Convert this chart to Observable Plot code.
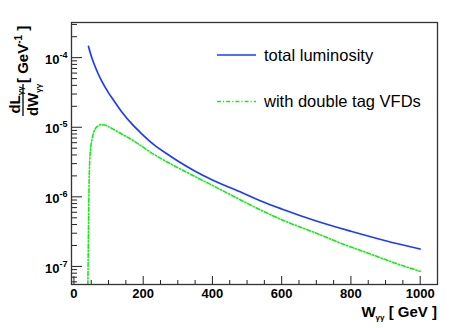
<!DOCTYPE html>
<html>
<head>
<meta charset="utf-8">
<script src="https://cdn.jsdelivr.net/npm/d3@7"></script>
<script src="https://cdn.jsdelivr.net/npm/@observablehq/plot@0.6"></script>
<style>
  html, body { margin: 0; padding: 0; background: #fff; }
  #chart { width: 457px; height: 328px; }
</style>
</head>
<body>
<div id="chart"></div>
<script>
// ---- data ----
const totalW = [42, 50, 60, 70, 80, 100, 115, 140, 170, 192, 230, 278, 300, 350, 400, 480, 538, 600, 700, 800, 900, 1000];
const totalL = [1.45e-4, 1.06e-4, 7.7e-5, 5.87e-5, 4.64e-5, 3.12e-5, 2.43e-5, 1.62e-5, 1.08e-5, 8.4e-6, 5.68e-6, 3.86e-6, 3.27e-6, 2.34e-6, 1.75e-6, 1.18e-6, 8.8e-7, 6.7e-7, 4.5e-7, 3.2e-7, 2.34e-7, 1.78e-7];

const vfdW = [40, 41, 42, 43, 44, 45.5, 48, 52, 57, 63, 70, 78, 88, 100, 115, 144, 170, 192, 230, 278, 336, 400, 480, 538, 600, 700, 783, 850, 920, 1000];
const vfdL = [4e-8, 1.2e-7, 3.5e-7, 8e-7, 1.7e-6, 3.2e-6, 4.8e-6, 6.6e-6, 8.4e-6, 9.7e-6, 1.05e-5, 1.09e-5, 1.08e-5, 1.02e-5, 9.3e-6, 7.7e-6, 6.5e-6, 5.5e-6, 4.1e-6, 3.0e-6, 2.12e-6, 1.46e-6, 9.1e-7, 6.5e-7, 4.7e-7, 3.0e-7, 2.04e-7, 1.55e-7, 1.15e-7, 8.5e-8];

const xMajorTicks = [0, 200, 400, 600, 800, 1000];
const xMinorTicks = [50, 100, 150, 250, 300, 350, 450, 500, 550, 650, 700, 750, 850, 900, 950];
const yMajorTicks = [1e-7, 1e-6, 1e-5, 1e-4];
const yMinorTicks = [6e-8, 7e-8, 8e-8, 9e-8,
  2e-7, 3e-7, 4e-7, 5e-7, 6e-7, 7e-7, 8e-7, 9e-7,
  2e-6, 3e-6, 4e-6, 5e-6, 6e-6, 7e-6, 8e-6, 9e-6,
  2e-5, 3e-5, 4e-5, 5e-5, 6e-5, 7e-5, 8e-5, 9e-5,
  2e-4, 3e-4];

const seriesNames = ["total luminosity", "with double tag VFDs"];
const seriesColors = ["#1a3cff", "#11ee11"];

const total = totalW.map((w, i) => ({w, l: totalL[i]}));
const vfd = vfdW.map((w, i) => ({w, l: vfdL[i]}));

const FONT = "'Liberation Sans', Arial, Helvetica, sans-serif";

const chart = Plot.plot({
  width: 457,
  height: 328,
  marginLeft: 71,
  marginRight: 20,
  marginTop: 22,
  marginBottom: 44,
  style: {fontFamily: FONT, background: "white", overflow: "visible"},
  x: {domain: [-7, 1050]},
  y: {type: "log", domain: [5.5e-8, 3.2e-4]},
  marks: [
    Plot.line(total, {x: "w", y: "l", stroke: seriesColors[0], strokeWidth: 1.7, curve: "monotone-x", clip: true}),
    Plot.line(vfd, {x: "w", y: "l", stroke: seriesColors[1], strokeWidth: 1.6, strokeDasharray: "4,2,1.2,2", curve: "monotone-x", clip: true}),
    Plot.axisX(xMinorTicks, {tickSize: -4, fill: "none", label: null, stroke: "#222"}),
    Plot.axisX(xMajorTicks, {tickSize: -8, fill: "none", label: null, stroke: "#222"}),
    Plot.axisX(xMajorTicks, {tickSize: 0, tickPadding: 4, label: null, fontSize: 13, fontWeight: "bold", fill: "black", tickFormat: d => String(d)}),
    Plot.axisY(yMinorTicks, {tickSize: -6, fill: "none", label: null, stroke: "#222"}),
    Plot.axisY(yMajorTicks, {tickSize: -11, fill: "none", label: null, stroke: "#222"}),
    Plot.axisY(yMajorTicks, {tickSize: 0, tickPadding: 4, dy: 2, label: null, fontSize: 13, fontWeight: "bold", fill: "black",
      tickFormat: d => "10^" + Math.round(Math.log10(d))}),
    Plot.frame({stroke: "#333", strokeWidth: 1.3})
  ]
});

document.getElementById("chart").appendChild(chart);
const svg = d3.select(chart);

// superscripts on y tick labels
svg.selectAll('g[aria-label="y-axis tick label"] text').each(function() {
  const s = this.textContent;
  const m = s.split("^");
  if (m.length === 2) {
    const t = d3.select(this);
    t.text(null);
    t.append("tspan").text(m[0]);
    t.append("tspan").attr("dy", "-6").attr("font-size", 9).text(m[1]);
  }
});

// y-axis title (rotated fraction)
const yt = svg.append("g").attr("transform", "rotate(-90)")
  .attr("font-family", FONT).attr("font-weight", "bold").attr("fill", "black");
const num = yt.append("text").attr("x", -100).attr("y", 20).attr("text-anchor", "middle").attr("font-size", 15);
num.append("tspan").text("dL");
num.append("tspan").attr("font-size", 8).attr("dy", 3).text("γγ");
yt.append("line").attr("x1", -116).attr("x2", -84).attr("y1", 23).attr("y2", 23)
  .attr("stroke", "black").attr("stroke-width", 1.3);
const den = yt.append("text").attr("x", -100).attr("y", 37.5).attr("text-anchor", "middle").attr("font-size", 15);
den.append("tspan").text("dW");
den.append("tspan").attr("font-size", 8).attr("dy", 3).text("γγ");
const unit = yt.append("text").attr("x", -83).attr("y", 28).attr("text-anchor", "start").attr("font-size", 15);
unit.append("tspan").text("[ GeV");
unit.append("tspan").attr("font-size", 10).attr("dy", -6).text("-1");
unit.append("tspan").attr("dy", 6).text(" ]");

// x-axis title
const xt = svg.append("text").attr("x", 437).attr("y", 317).attr("text-anchor", "end")
  .attr("font-family", FONT).attr("font-weight", "bold").attr("font-size", 15).attr("fill", "black");
xt.append("tspan").text("W");
xt.append("tspan").attr("font-size", 8).attr("dy", 3).text("γγ");
xt.append("tspan").attr("dy", -3).text(" [ GeV ]");

// legend
const lg = svg.append("g").attr("font-family", FONT).attr("font-size", 16.5).attr("fill", "black")
  .attr("text-anchor", "start");
const legendRows = [
  {y: 55, text: seriesNames[0], color: seriesColors[0], dash: null, sw: 1.7},
  {y: 101.5, text: seriesNames[1], color: seriesColors[1], dash: "4,2,1.2,2", sw: 1.6}
];
legendRows.forEach(r => {
  lg.append("line").attr("x1", 217).attr("x2", 256).attr("y1", r.y).attr("y2", r.y)
    .attr("stroke", r.color).attr("stroke-width", r.sw).attr("stroke-dasharray", r.dash);
  lg.append("text").attr("x", 264).attr("y", r.y + 5.5).attr("text-anchor", "start").text(r.text);
});
</script>
</body>
</html>
